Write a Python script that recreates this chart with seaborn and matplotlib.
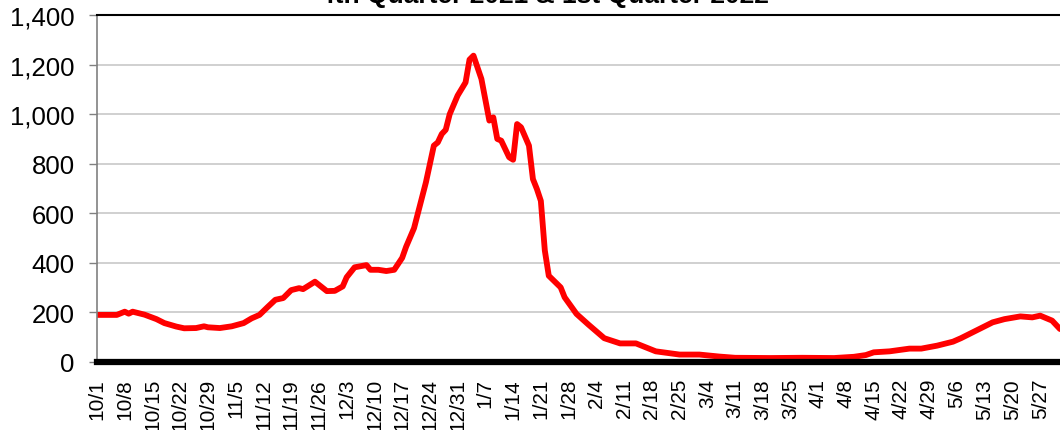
import pandas as pd
import matplotlib
matplotlib.use("Agg")
import matplotlib.pyplot as plt
import seaborn as sns

# values (date, count)
dates = [
    "2021-10-01", "2021-10-06", "2021-10-08", "2021-10-09", "2021-10-10", "2021-10-13",
    "2021-10-16", "2021-10-18", "2021-10-21", "2021-10-23", "2021-10-26", "2021-10-28",
    "2021-10-29", "2021-11-01", "2021-11-04", "2021-11-07", "2021-11-09", "2021-11-11",
    "2021-11-13", "2021-11-15", "2021-11-17", "2021-11-19", "2021-11-21", "2021-11-22",
    "2021-11-25", "2021-11-28", "2021-11-30", "2021-12-02", "2021-12-03", "2021-12-05",
    "2021-12-08", "2021-12-09", "2021-12-11", "2021-12-13", "2021-12-15", "2021-12-17",
    "2021-12-18", "2021-12-20", "2021-12-23", "2021-12-25", "2021-12-26", "2021-12-27",
    "2021-12-28", "2021-12-29", "2021-12-31", "2022-01-02", "2022-01-03", "2022-01-04",
    "2022-01-06", "2022-01-08", "2022-01-09", "2022-01-10", "2022-01-11", "2022-01-13",
    "2022-01-14", "2022-01-15", "2022-01-16", "2022-01-18", "2022-01-19", "2022-01-20",
    "2022-01-21", "2022-01-22", "2022-01-23", "2022-01-26", "2022-01-27", "2022-01-30",
    "2022-02-02", "2022-02-06", "2022-02-10", "2022-02-14", "2022-02-19", "2022-02-25",
    "2022-03-02", "2022-03-07", "2022-03-11", "2022-03-20", "2022-03-28", "2022-04-05",
    "2022-04-10", "2022-04-13", "2022-04-15", "2022-04-19", "2022-04-24", "2022-04-27",
    "2022-05-01", "2022-05-05", "2022-05-07", "2022-05-09", "2022-05-12", "2022-05-15",
    "2022-05-18", "2022-05-22", "2022-05-25", "2022-05-27", "2022-05-30", "2022-06-01",
]
values = [
    190, 190, 203, 195, 203, 191,
    173, 157, 143, 136, 137, 144,
    140, 137, 144, 157, 176, 190,
    221, 251, 258, 290, 298, 294,
    324, 286, 287, 305, 342, 382,
    391, 372, 372, 367, 372, 420,
    465, 540, 725, 873, 886, 920,
    937, 1000, 1075, 1128, 1220, 1236,
    1142, 974, 987, 900, 893, 826,
    816, 960, 947, 873, 738, 698,
    650, 450, 348, 301, 261, 194,
    151, 96, 75, 75, 43, 30,
    30, 22, 17, 16, 17, 16,
    21, 28, 39, 43, 54, 54,
    66, 82, 96, 112, 136, 160,
    173, 184, 180, 187, 167, 133,
]

tick_labels = [
    "10/1", "10/8", "10/15", "10/22", "10/29", "11/5", "11/12", "11/19", "11/26",
    "12/3", "12/10", "12/17", "12/24", "12/31", "1/7", "1/14", "1/21", "1/28",
    "2/4", "2/11", "2/18", "2/25", "3/4", "3/11", "3/18", "3/25", "4/1", "4/8",
    "4/15", "4/22", "4/29", "5/6", "5/13", "5/20", "5/27",
]
title = "4th Quarter 2021 & 1st Quarter 2022"

df = pd.DataFrame({"date": pd.to_datetime(dates), "count": values})
tick_pos = pd.date_range("2021-10-01", periods=len(tick_labels), freq="7D")

sns.set_style("white")
plt.rcParams["font.family"] = ["Liberation Sans", "DejaVu Sans"]

fig = plt.figure(figsize=(10.6, 4.31), dpi=100)
ax = fig.add_axes([97 / 1060, 1 - 363 / 431, 1 - 97 / 1060, 347 / 431])

sns.lineplot(data=df, x="date", y="count", color="#ff0000", linewidth=4.2, ax=ax)

ax.set_xlim(df["date"].iloc[0], df["date"].iloc[-1])
ax.set_ylim(0, 1400)
ax.set_yticks(range(0, 1401, 200))
ax.set_yticklabels([f"{v:,}" for v in range(0, 1401, 200)], fontsize=18.5, color="black")
ax.set_xticks(tick_pos)
ax.set_xticklabels(tick_labels, rotation=90, fontsize=15, color="black")
ax.set_xlabel("")
ax.set_ylabel("")

ax.yaxis.grid(True, color="#c8c8c8", linewidth=1.2)
ax.set_axisbelow(True)
ax.tick_params(axis="y", length=6, width=1, color="#808080", pad=10, left=True)
ax.tick_params(axis="x", length=0, pad=11.5)

ax.spines["left"].set_color("#808080")
ax.spines["left"].set_linewidth(1.2)
ax.spines["bottom"].set_color("black")
ax.spines["bottom"].set_linewidth(4.5)
ax.spines["bottom"].set_zorder(5)
ax.spines["top"].set_color("black")
ax.spines["top"].set_linewidth(1.5)
ax.spines["right"].set_visible(False)

# title sits mostly above the visible area, as in the source image
fig.text(544 / 1060, 1 - 3 / 431, title, ha="center", va="baseline",
         fontsize=19, fontweight="bold", color="black")

fig.savefig("out.png", dpi=100)
